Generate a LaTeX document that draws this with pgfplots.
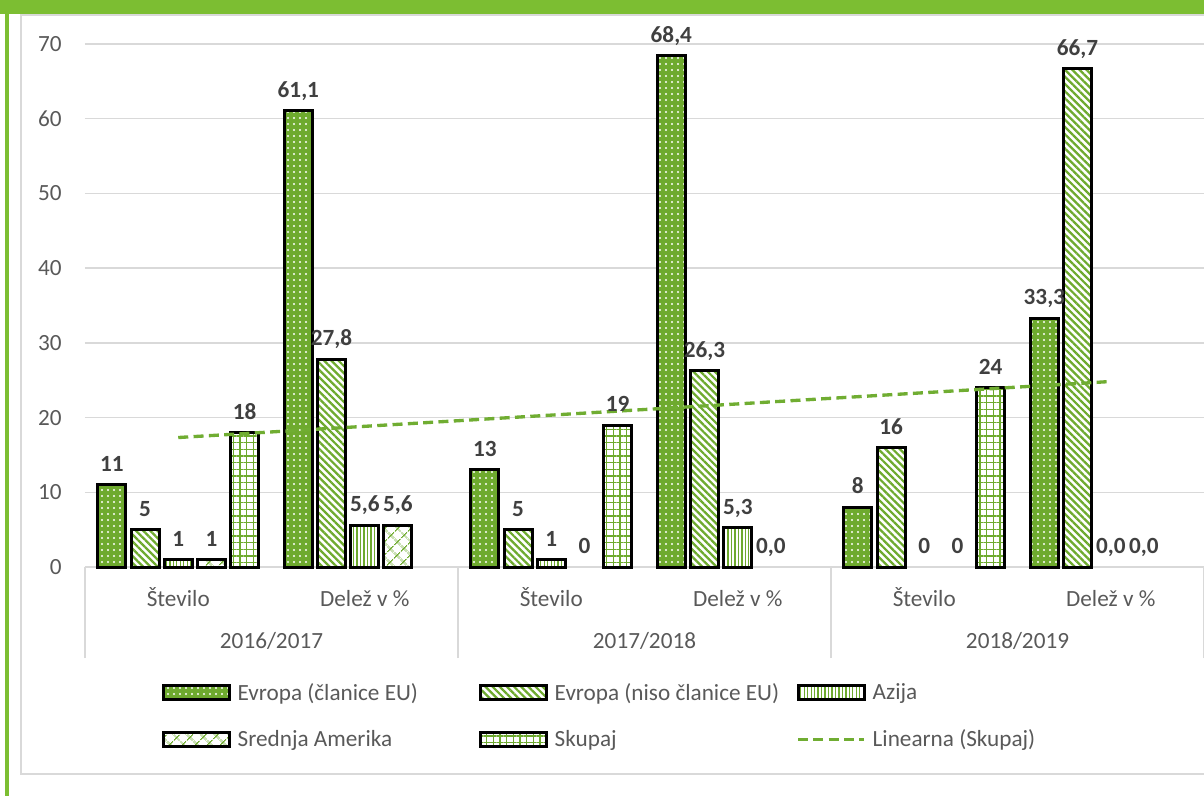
\documentclass[border=0pt]{standalone}
\usepackage{fontspec}
\setmainfont{Carlito}
\usepackage{pgfplots}
\pgfplotsset{compat=1.18}
\usetikzlibrary{patterns.meta}
\definecolor{bg}{RGB}{110,170,46}
\definecolor{fg}{RGB}{124,190,50}
\definecolor{trend}{RGB}{112,173,50}
\definecolor{lab}{HTML}{404040}
\definecolor{tickc}{HTML}{595959}
\definecolor{gridc}{HTML}{D9D9D9}
\newcommand\F{\fontsize{17.4pt}{21pt}\selectfont}
\newcommand\LE[1]{\makebox[176pt][l]{#1}}
\pgfplotsset{
  lstyle/.style={nodes near coords, point meta=explicit symbolic,
    nodes near coords style={font=\bfseries\F, text=lab, inner sep=0pt, anchor=base, yshift=10pt}},
  bstyle/.style={ybar, bar width=0.15, bar shift=0pt, draw=black, line width=2.25pt, lstyle,
    legend image code/.code={\draw[##1, line width=1.8pt] (0pt,-5.25pt) rectangle (49.5pt,5.25pt);}},
  tstyle/.style={trend, line width=2.5pt, dash pattern=on 7.5pt off 4pt,
    legend image code/.code={\draw[##1] (0pt,0pt) -- (49.5pt,0pt);}},
}
\begin{document}
\begin{tikzpicture}
\useasboundingbox (0,0) rectangle (903pt,-597pt);
\fill[fg] (0,0) rectangle (903pt,-10.5pt);
\fill[fg] (3.75pt,-10pt) rectangle (6.75pt,-597pt);
\draw[gridc, line width=1.2pt] (15.75pt,-11.25pt) rectangle (910pt,-580.5pt);
\begin{axis}[
  at={(63.75pt,-425.25pt)}, anchor=south west,
  scale only axis, width=839.25pt, height=392.25pt,
  xmin=0, xmax=6, ymin=0, ymax=70, clip=false,
  ytick={0,10,...,70},
  ymajorgrids, grid style={gridc, line width=1.1pt},
  axis x line*=bottom, axis y line*=left,
  y axis line style={draw=none},
  x axis line style={draw=gridc, line width=1.1pt, -},
  xtick={0.5,1.5,...,5.5},
  xticklabels={Število, Delež v \%, Število, Delež v \%, Število, Delež v \%},
  major tick length=0pt,
  minor xtick={0,2,4,6},
  minor tick length=68.25pt,
  tick align=outside,
  minor tick style={gridc, line width=1.1pt},
  extra x ticks={1,3,5},
  extra x tick labels={2016/2017,2017/2018,2018/2019},
  extra x tick style={major tick length=0pt, xticklabel style={yshift=-31.5pt}},
  xticklabel style={anchor=base, inner sep=0pt, yshift=-29.25pt, font=\F, text=tickc},
  yticklabel style={anchor=east, inner sep=0pt, xshift=-17.25pt, font=\F, text=tickc},
  /pgf/number format/assume math mode=true,
  legend columns=3,
  legend cell align=left,
  legend style={at={(0.0688,-0.2849)}, anchor=west, draw=none, fill=none, font=\F, text=tickc,
    column sep=4pt, row sep=21pt, inner sep=0pt,
    nodes={inner ysep=0pt, inner xsep=1.25pt}},
]
% Evropa (clanice EU)
\addplot[bstyle, preaction={fill=bg}, pattern={Dots[distance=4.5pt,radius=0.85pt]}, pattern color=white]
  table[x=x, y=y, meta=l, row sep=\\]{x y l\\ 0.144 11 11\\ 1.144 61.1 61,1\\ 2.144 13 13\\ 3.144 68.4 68,4\\ 4.144 8 8\\ 5.144 33.3 33,3\\};
\addlegendentry{\LE{Evropa (članice EU)}}
% Evropa (niso clanice EU)
\addplot[bstyle, preaction={fill=white}, pattern={Lines[angle=-45,distance=3.8pt,line width=1.7pt]}, pattern color=bg]
  table[x=x, y=y, meta=l, row sep=\\]{x y l\\ 0.322 5 5\\ 1.322 27.8 27,8\\ 2.322 5 5\\ 3.322 26.3 26,3\\ 4.322 16 16\\ 5.322 66.7 66,7\\};
\addlegendentry{\LE{Evropa (niso članice EU)}}
% Azija
\addplot[bstyle, preaction={fill=white}, pattern={Lines[angle=90,distance=2.6pt,line width=1pt]}, pattern color=bg]
  table[x=x, y=y, meta=l, row sep=\\]{x y l\\ 0.5 1 1\\ 1.5 5.6 5,6\\ 2.5 1 1\\ 3.5 5.3 5,3\\};
\addlegendentry{\LE{Azija}}
% Srednja Amerika
\addplot[bstyle, preaction={fill=white}, pattern={Hatch[angle=45,distance=6.9pt,line width=0.8pt]}, pattern color=bg]
  table[x=x, y=y, meta=l, row sep=\\]{x y l\\ 0.678 1 1\\ 1.678 5.6 5,6\\};
\addlegendentry{\LE{Srednja Amerika}}
% Skupaj
\addplot[bstyle, preaction={fill=white}, pattern={Hatch[angle=0,distance=5pt,line width=1.1pt]}, pattern color=bg]
  table[x=x, y=y, meta=l, row sep=\\]{x y l\\ 0.856 18 18\\ 2.856 19 19\\ 4.856 24 24\\};
\addlegendentry{\LE{Skupaj}}
% zero values (labels only)
\addplot[draw=none, forget plot, lstyle]
  table[x=x, y=y, meta=l, row sep=\\]{x y l\\ 4.5 0 0\\ 5.5 0 0,0\\ 2.678 0 0\\ 3.678 0 0,0\\ 4.678 0 0\\ 5.678 0 0,0\\};
% Linear trend of Skupaj
\addplot[tstyle] coordinates {(0.5,17.33) (5.5,24.83)};
\addlegendentry{\LE{Linearna (Skupaj)}}
\end{axis}
\end{tikzpicture}
\end{document}
